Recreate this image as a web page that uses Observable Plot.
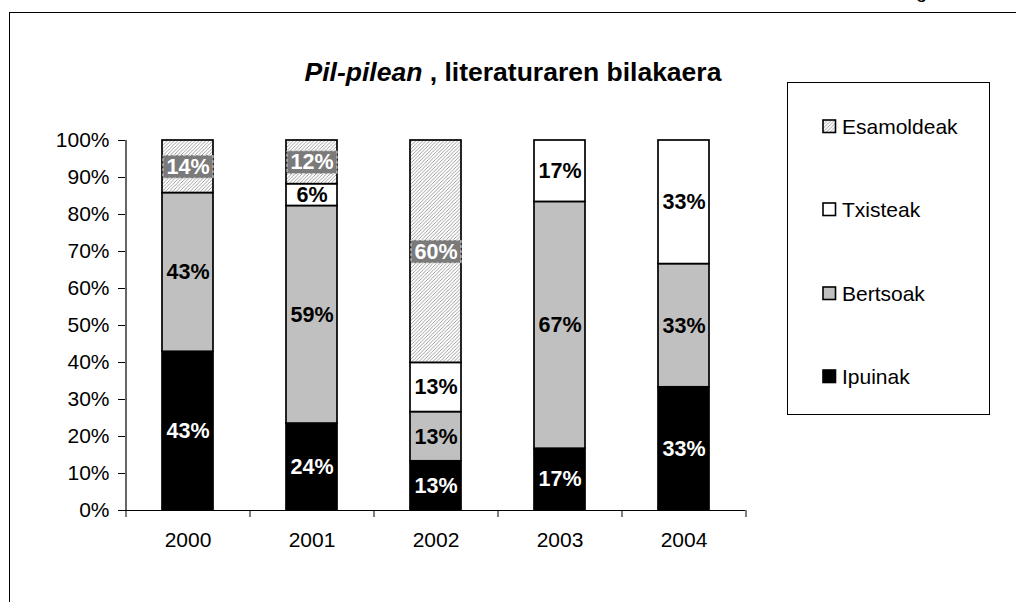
<!DOCTYPE html>
<html>
<head>
<meta charset="utf-8">
<script src="https://cdn.jsdelivr.net/npm/d3@7"></script>
<script src="https://cdn.jsdelivr.net/npm/@observablehq/plot@0.6"></script>
<style>
  html, body { margin: 0; padding: 0; background: #fff; overflow: hidden; }
  body { font-family: "Liberation Sans", Arial, sans-serif; }
  #wrap { position: relative; width: 1016px; height: 602px; overflow: hidden; }
  #chart { position: absolute; left: 0; top: 0; }
  #frame { position: absolute; left: 9px; top: 12px; width: 1020px; height: 620px;
           border-left: 1.5px solid #000; border-top: 1.5px solid #000; }
  #title { position: absolute; left: 0; width: 1026px; top: 59px; text-align: center;
           font-weight: bold; font-size: 26.5px; line-height: 26.5px; white-space: nowrap; }
  #cut { position: absolute; left: 916px; top: -18.6px; font-size: 20px; line-height: 20px; }
  #legend { position: absolute; left: 787px; top: 82px; width: 203px; height: 333px;
            border: 1.5px solid #000; box-sizing: border-box; }
  .lgsw { position: absolute; }
  .lgtx { position: absolute; font-size: 21px; line-height: 21px; white-space: nowrap; }
</style>
</head>
<body>
<div id="wrap">
  <div id="frame"></div>
  <div id="cut">g</div>
  <div id="title"><i>Pil-pilean</i> , literaturaren bilakaera</div>
  <div id="chart"></div>
  <div id="legend"></div>
</div>
<script>
// ---- data ----
const years = ["2000", "2001", "2002", "2003", "2004"];
const series = ["Ipuinak", "Bertsoak", "Txisteak", "Esamoldeak"];
const ipuinak    = [42.9, 23.5, 13.3, 16.7, 33.3];
const bertsoak   = [42.9, 58.8, 13.3, 66.7, 33.3];
const txisteak   = [0,     5.9, 13.3, 16.6, 33.4];
const esamoldeak = [14.2, 11.8, 60.1, 0,    0];
const yTicks = [0, 10, 20, 30, 40, 50, 60, 70, 80, 90, 100];
const colors = ["#000000", "#c0c0c0", "#ffffff", "url(#hatch)"];

const valuesBySeries = {Ipuinak: ipuinak, Bertsoak: bertsoak, Txisteak: txisteak, Esamoldeak: esamoldeak};
const rows = [];
years.forEach((y, i) => series.forEach(s => {
  const v = valuesBySeries[s][i];
  if (v > 0) rows.push({year: y, series: s, value: v});
}));

const W = 1016, H = 602, ML = 125, MR = 271, MT = 140, MB = 92;
const step = (W - ML - MR) / years.length;
const lbl = d => Math.round(d.value) + "%";
const stackOpts = (extra) => Plot.stackY({x: "year", y: "value", z: "series", order: series, ...extra});
const LF = 21.5;

const plot = Plot.plot({
  width: W, height: H,
  marginLeft: ML, marginRight: MR, marginTop: MT, marginBottom: MB,
  style: {fontFamily: "Liberation Sans, Arial, sans-serif", fontSize: "21px", color: "#000", background: "transparent"},
  x: {type: "band", domain: years, paddingInner: 0.59, paddingOuter: 0.295, axis: null, label: null},
  y: {domain: [0, 100], axis: null, label: null},
  color: {domain: series, range: colors},
  marks: [
    Plot.barY(rows, stackOpts({fill: "series", stroke: "#000", strokeWidth: 1.7})),
    Plot.text(rows, stackOpts({text: d => d.series === "Ipuinak" ? lbl(d) : "", fill: "#fff", fontWeight: "bold", fontSize: LF})),
    Plot.text(rows, stackOpts({text: d => (d.series === "Bertsoak" || d.series === "Txisteak") ? lbl(d) : "", fill: "#000", fontWeight: "bold", fontSize: LF})),
    Plot.text(rows, stackOpts({text: d => d.series === "Esamoldeak" ? lbl(d) : "", fill: "#fff", fontWeight: "bold", fontSize: LF})),
    Plot.ruleY([0], {stroke: "#000", strokeWidth: 1.2}),
    Plot.ruleX([years[0]], {y1: 0, y2: 100, dx: -step / 2, stroke: "#000", strokeWidth: 1.2}),
    Plot.axisY(yTicks, {tickFormat: d => d + "%", tickSize: 7, tickPadding: 9, fontSize: 21, label: null}),
    Plot.axisX(years, {tickSize: 0, tickPadding: 22, fontSize: 21, label: null}),
    Plot.axisX(years, {tickSize: 7, tickFormat: () => "", dx: -step / 2, label: null}),
    Plot.axisX([years[years.length - 1]], {tickSize: 7, tickFormat: () => "", dx: step / 2, label: null})
  ]
});

document.getElementById("chart").appendChild(plot);

// hatch pattern
const ns = "http://www.w3.org/2000/svg";
const defs = document.createElementNS(ns, "defs");
defs.innerHTML = '<pattern id="hatch" patternUnits="userSpaceOnUse" width="3.5" height="3.5">' +
  '<rect width="3.5" height="3.5" fill="#fff"/>' +
  '<path d="M-1,1 l2,-2 M0,3.5 l3.5,-3.5 M2.5,4.5 l2,-2" stroke="#888" stroke-width="0.8"/></pattern>';
plot.insertBefore(defs, plot.firstChild);

// grey boxes behind the Esamoldeak labels
const textGroups = plot.querySelectorAll('g[aria-label="text"]');
const esaGroup = textGroups[2];
if (esaGroup) {
  esaGroup.querySelectorAll("text").forEach(t => {
    if (!t.textContent) return;
    const b = t.getBBox();
    const r = document.createElementNS(ns, "rect");
    r.setAttribute("x", b.x - 3.5);
    r.setAttribute("y", b.y + 0.5);
    r.setAttribute("width", b.width + 7);
    r.setAttribute("height", b.height - 1);
    r.setAttribute("fill", "#7a7a7a");
    r.setAttribute("stroke", "#ddd");
    r.setAttribute("stroke-width", "1");
    r.setAttribute("stroke-dasharray", "3,2");
    const tr = t.getAttribute("transform");
    if (tr) r.setAttribute("transform", tr);
    t.parentNode.insertBefore(r, t);
  });
}

// legend
const legend = document.getElementById("legend");
const baselines = [132, 215.5, 299, 382.5];
series.slice().reverse().forEach((s, i) => {
  const c = colors[series.indexOf(s)];
  const bl = baselines[i];
  const sw = document.createElementNS(ns, "svg");
  sw.setAttribute("width", 15); sw.setAttribute("height", 15);
  sw.setAttribute("class", "lgsw");
  sw.style.left = (821 - 787) + "px";
  sw.style.top = (bl - 14.5 - 82) + "px";
  sw.innerHTML = `<rect x="1" y="1" width="12.5" height="12.5" fill="${c}" stroke="#000" stroke-width="1.6"/>`;
  legend.appendChild(sw);
  const tx = document.createElement("div");
  tx.className = "lgtx";
  tx.textContent = s;
  tx.style.left = (841 - 787) + "px";
  tx.style.top = (bl - 17.4 - 82) + "px";
  legend.appendChild(tx);
});
</script>
</body>
</html>
